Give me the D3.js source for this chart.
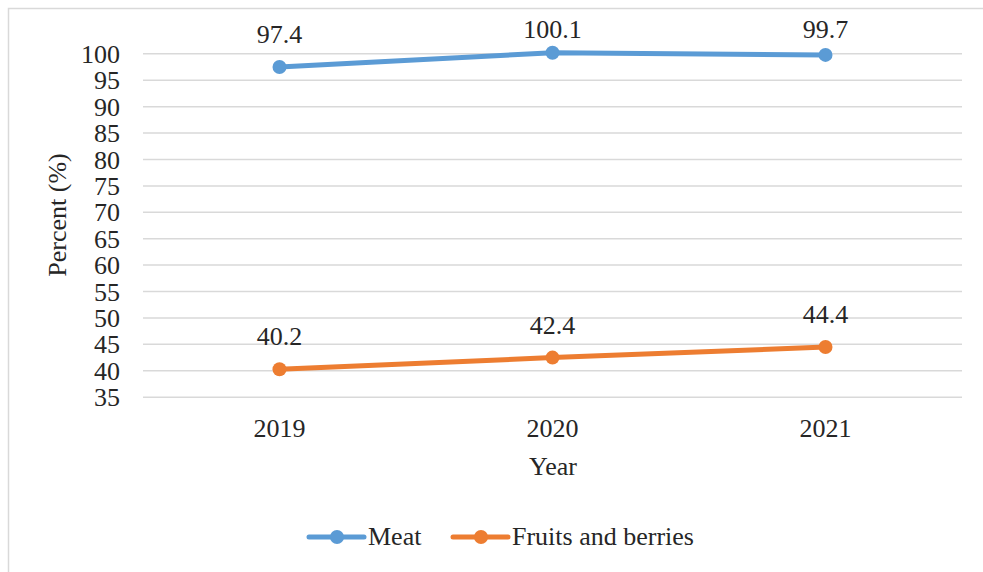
<!DOCTYPE html>
<html><head><meta charset="utf-8">
<script src="https://cdn.jsdelivr.net/npm/d3@7"></script>
<style>body{margin:0;background:#fff}svg{display:block}</style>
</head><body><svg id="c" width="983" height="572"></svg>
<script>
const years = ["2019", "2020", "2021"];
const meat = [97.4, 100.1, 99.7];
const fruits = [40.2, 42.4, 44.4];
const yTicks = [35, 40, 45, 50, 55, 60, 65, 70, 75, 80, 85, 90, 95, 100];
const seriesNames = ["Meat", "Fruits and berries"];
const colors = ["#5B9BD5", "#ED7D31"];
const FONT = '"Liberation Serif"';

const svg = d3.select("#c");
svg.append("path").attr("d","M8.5,572 V8.5 H983").attr("fill","none").attr("stroke","#d9d9d9").attr("stroke-width",1.5);

const x = d3.scaleBand().domain(years).range([143, 962]);
const y = d3.scaleLinear().domain([35, 100]).range([396.7, 53.3]);

function txt(sel){ return sel.style("font-family",FONT).attr("fill","#262626").attr("font-size",26); }

const yAxis = d3.axisLeft(y).tickValues(yTicks).tickSize(-(962-143)).tickPadding(24).tickFormat(d3.format("d"));
const gy = svg.append("g").attr("transform","translate(143,0)").call(yAxis);
gy.select(".domain").remove();
gy.selectAll(".tick line").attr("stroke","#d9d9d9").attr("stroke-width",1.5);
txt(gy.selectAll(".tick text")).attr("dy","0.35em").attr("x",-23);

const xAxis = d3.axisBottom(x).tickSize(0).tickPadding(0);
const gx = svg.append("g").attr("transform","translate(0,437)").call(xAxis);
gx.select(".domain").remove();
txt(gx.selectAll(".tick text")).attr("dy",0).attr("y",0);

txt(svg.append("text")).attr("x",553).attr("y",475).attr("text-anchor","middle").text("Year");
txt(svg.append("text")).attr("transform","translate(66,215) rotate(-90)").attr("text-anchor","middle").text("Percent (%)");

const data = [meat, fruits];
const line = d3.line().x((d,i)=>x(years[i])+x.bandwidth()/2).y(d=>y(d));
data.forEach((vals, si) => {
  const g = svg.append("g");
  g.append("path").attr("d", line(vals)).attr("fill","none").attr("stroke",colors[si]).attr("stroke-width",5).attr("stroke-linecap","round");
  g.selectAll("circle").data(vals).join("circle")
    .attr("cx",(d,i)=>x(years[i])+x.bandwidth()/2).attr("cy",d=>y(d)).attr("r",7).attr("fill",colors[si]);
  txt(g.selectAll("text").data(vals).join("text"))
    .attr("x",(d,i)=>x(years[i])+x.bandwidth()/2)
    .attr("y",d=>Math.max(y(d)-24, 38))
    .attr("text-anchor","middle").text(d=>d.toFixed(1));
});

const legX = [309, 453];
seriesNames.forEach((n, i) => {
  const g = svg.append("g").attr("transform",`translate(${legX[i]},537)`);
  g.append("line").attr("x1",0).attr("x2",55).attr("stroke",colors[i]).attr("stroke-width",5).attr("stroke-linecap","round");
  g.append("circle").attr("cx",28).attr("r",7).attr("fill",colors[i]);
  txt(g.append("text")).attr("x",59).attr("y",8).text(n);
});
</script></body></html>
